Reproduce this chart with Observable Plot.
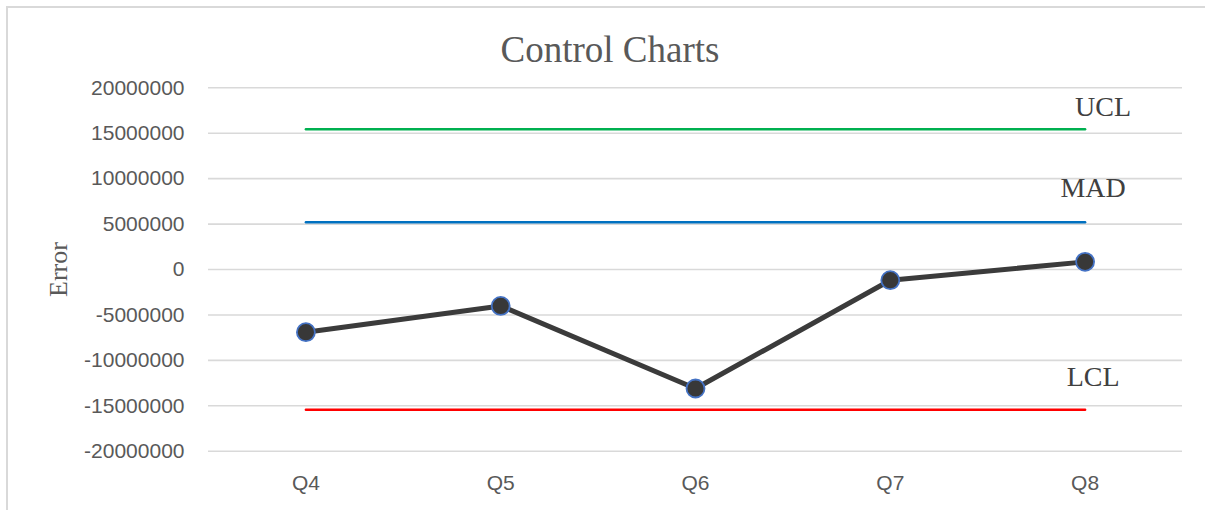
<!DOCTYPE html>
<html><head><meta charset="utf-8">
<script src="https://cdn.jsdelivr.net/npm/d3@7"></script>
<script src="https://cdn.jsdelivr.net/npm/@observablehq/plot@0.6"></script>
<style>
html,body{margin:0;padding:0;background:#fff;}
#frame{position:relative;width:1205px;height:510px;overflow:hidden;background:#fff;}
#border{position:absolute;left:6px;top:6px;right:-4px;bottom:-4px;border-top:2px solid #d9d9d9;border-left:2px solid #d9d9d9;}
#title{position:absolute;left:0;width:1220px;top:30px;height:40px;line-height:40px;text-align:center;font-family:"Liberation Serif","Times New Roman",serif;font-size:37px;color:#595959;white-space:nowrap;}
#chart{position:absolute;left:0;top:70px;}
</style></head>
<body>
<div id="frame"><div id="border"></div><div id="title">Control Charts</div><div id="chart"></div></div>
<script>
// ---- data ----
const quarters = ["Q4", "Q5", "Q6", "Q7", "Q8"];
const errorValues = [-6900000, -4010000, -13100000, -1180000, 840000];
const uclValues = [15430000, 15430000, 15430000, 15430000, 15430000];
const madValues = [5200000, 5200000, 5200000, 5200000, 5200000];
const lclValues = [-15430000, -15430000, -15430000, -15430000, -15430000];
const seriesNames = ["UCL", "MAD", "LCL"];
const yTicks = [-20000000, -15000000, -10000000, -5000000, 0, 5000000, 10000000, 15000000, 20000000];
const yLabel = "Error";

// ---- build tables ----
const errorData = quarters.map((q, i) => ({q, v: errorValues[i]}));
const limitValues = {UCL: uclValues, MAD: madValues, LCL: lclValues};
const limitData = seriesNames.flatMap(name => quarters.map((q, i) => ({name, q, v: limitValues[name][i]})));

// ---- styles ----
const colors = {UCL: "#00b050", MAD: "#0070c0", LCL: "#ff0000"};
const labelOffsets = {UCL: [18, -13], MAD: [8, -25], LCL: [8, -24]};
const serif = "'Liberation Serif', 'Times New Roman', serif";

const limitMarks = seriesNames.map(name =>
  Plot.line(limitData.filter(d => d.name === name), {x: "q", y: "v", stroke: colors[name], strokeWidth: 2.5})
);
const limitLabels = seriesNames.map(name =>
  Plot.text(limitData.filter(d => d.name === name && d.q === quarters[quarters.length - 1]), {
    x: "q", y: "v", text: "name",
    dx: labelOffsets[name][0], dy: labelOffsets[name][1],
    lineAnchor: "bottom", textAnchor: "middle",
    fontFamily: serif, fontSize: 28, fill: "#404040"
  })
);

const chart = Plot.plot({
  width: 1205,
  height: 440,
  marginLeft: 208,
  marginRight: 23,
  marginTop: 17.3,
  marginBottom: 59.3,
  style: {fontFamily: "'Liberation Sans', Arial, sans-serif", fontSize: "21px", color: "#595959", background: "transparent", overflow: "visible"},
  x: {type: "point", domain: quarters, padding: 0.5, round: false, tickSize: 0, tickPadding: 24, label: null},
  y: {domain: [-20000000, 20000000], ticks: yTicks, tickSize: 0, tickPadding: 24, tickFormat: d => String(d), label: null},
  marks: [
    Plot.ruleY(yTicks, {stroke: "#d9d9d9", strokeWidth: 1.6}),
    ...limitMarks,
    Plot.line(errorData, {x: "q", y: "v", stroke: "#3b3b3b", strokeWidth: 5, strokeLinejoin: "round"}),
    Plot.dot(errorData, {x: "q", y: "v", r: 9, fill: "#383838", stroke: "#4472c4", strokeWidth: 1.8}),
    ...limitLabels,
    Plot.text([yLabel], {frameAnchor: "left", rotate: -90, textAnchor: "middle", lineAnchor: "middle", dx: -150, fontFamily: serif, fontSize: 26, fill: "#595959"})
  ]
});
document.getElementById("chart").appendChild(chart);
</script>
</body></html>
